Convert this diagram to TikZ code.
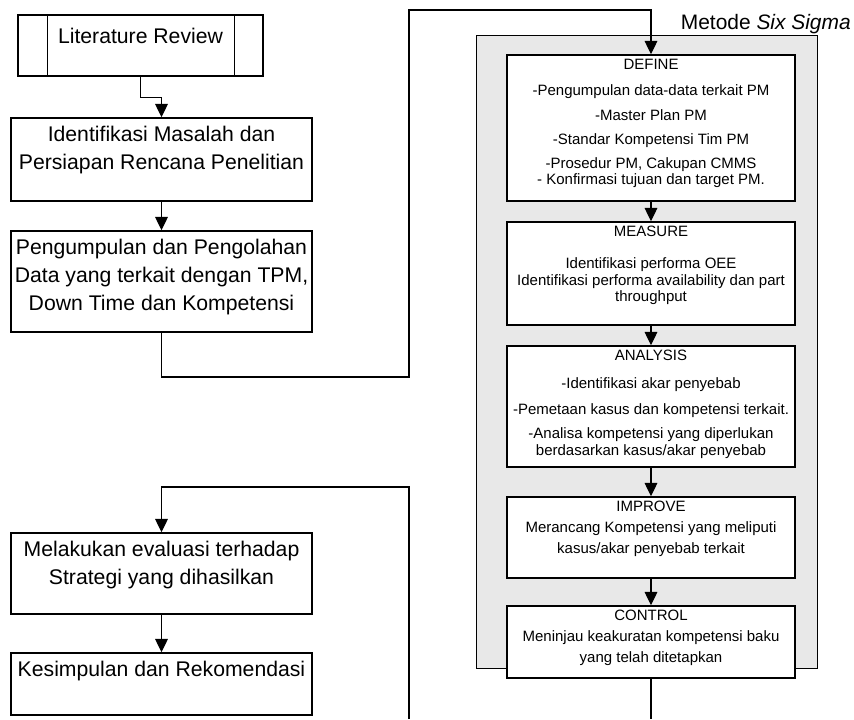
\documentclass[tikz,border=0pt]{standalone}
\usepackage{fontspec}
\setmainfont{Liberation Sans}
\usetikzlibrary{arrows.meta, positioning}

\begin{document}
\begin{tikzpicture}[x=0.75pt, y=-0.75pt,
    box/.style={draw, line width=1.1pt, fill=white, inner sep=0pt, minimum width=225.75pt},
    sbox/.style={draw, line width=1.1pt, fill=white, inner sep=0pt, minimum width=216pt},
    ltext/.style={align=center, inner sep=0pt, font=\fontsize{15.9}{21}\selectfont},
    stext/.style={align=center, inner sep=0pt, font=\fontsize{11.25}{12.4}\selectfont},
    arr/.style={line width=0.9pt, -{Triangle[length=10pt, width=9.5pt]}}]
    \useasboundingbox (0,0) rectangle (854,719);

    \node (six) [draw, line width=0.7pt, fill=black!9, minimum width=255.75pt, minimum height=474.75pt] at (646.5,351.5) {};
    \node (six-t) [anchor=base east, inner sep=0pt, font=\fontsize{15.7}{18}\selectfont] at (851,29.7) {Metode \textit{Six Sigma}};

    \node (lit) [box, minimum width=183.75pt, minimum height=45.75pt] at (140.5,45.5) {};
    \draw [line width=1.1pt] ([xshift=22.5pt]lit.north west) -- ([xshift=22.5pt]lit.south west);
    \draw [line width=1.1pt] ([xshift=-21.75pt]lit.north east) -- ([xshift=-21.75pt]lit.south east);
    \node (lit-t) [ltext, below=10.3pt of lit.north] {Literature Review};

    \node (idn) [box, minimum height=62.25pt] at (161.5,159.5) {};
    \node (idn-t) [ltext, below=6.5pt of idn.north] {Identifikasi Masalah dan\\Persiapan Rencana Penelitian};
    \node (dat) [box, minimum height=75.75pt] at (161.5,281.5) {};
    \node (dat-t) [ltext, below=6.5pt of dat.north] {Pengumpulan dan Pengolahan\\Data yang terkait dengan TPM,\\Down Time dan Kompetensi};
    \node (eva) [box, minimum height=60.75pt] at (161.5,573.5) {};
    \node (eva-t) [ltext, below=6.5pt of eva.north] {Melakukan evaluasi terhadap\\Strategi yang dihasilkan};
    \node (kes) [box, minimum height=46.5pt] at (161.5,684) {};
    \node (kes-t) [ltext, below=6.5pt of kes.north] {Kesimpulan dan Rekomendasi};

    \node (def) [sbox, minimum height=109.5pt] at (651,128) {};
    \node (def-t) [stext, below=3.5pt of def.north] {DEFINE\\[7pt]-Pengumpulan data-data terkait PM\\[6.4pt]-Master Plan PM\\[5.6pt]-Standar Kompetensi Tim PM\\[5.6pt]-Prosedur PM, Cakupan CMMS\\- Konfirmasi tujuan dan target PM.};
    \node (mea) [sbox, minimum height=77.25pt] at (651,273.5) {};
    \node (mea-t) [stext, below=3.5pt of mea.north] {MEASURE\\[11.6pt]Identifikasi performa OEE\\Identifikasi performa availability dan part\\throughput};
    \node (ana) [sbox, minimum height=90.75pt] at (651,406.5) {};
    \node (ana-t) [stext, below=3.5pt of ana.north] {ANALYSIS\\[8.6pt]-Identifikasi akar penyebab\\[7.1pt]-Pemetaan kasus dan kompetensi terkait.\\[5.6pt]-Analisa kompetensi yang diperlukan\\berdasarkan kasus/akar penyebab};
    \node (imp) [sbox, minimum height=60.75pt] at (651,537.5) {};
    \node (imp-t) [stext, below=3.5pt of imp.north] {IMPROVE\\[3.4pt]Merancang Kompetensi yang meliputi\\[3.4pt]kasus/akar penyebab terkait};
    \node (con) [sbox, minimum height=54pt] at (651,642) {};
    \node (con-t) [stext, below=3.5pt of con.north] {CONTROL\\[3.4pt]Meninjau keakuratan kompetensi baku\\[3.4pt]yang telah ditetapkan};

    \coordinate (up1) at (409,377);
    \coordinate (up2) at (409,10);
    \coordinate (cut1) at (651,719);
    \coordinate (cut2) at (409,719);

    \draw [arr] (lit.south) -- ++(0,21) -| (idn.north);
    \draw [arr] (idn.south) -- (dat.north);
    \draw [arr] (dat.south) |- (up1) -- (up2) -| (def.north);
    \draw [arr] (def.south) -- (mea.north);
    \draw [arr] (mea.south) -- (ana.north);
    \draw [arr] (ana.south) -- (imp.north);
    \draw [arr] (imp.south) -- (con.north);
    \draw [line width=0.9pt] (con.south) -- (cut1);
    \draw [arr] (cut2) -- ++(0,-232) -| (eva.north);
    \draw [arr] (eva.south) -- (kes.north);
\end{tikzpicture}
\end{document}
